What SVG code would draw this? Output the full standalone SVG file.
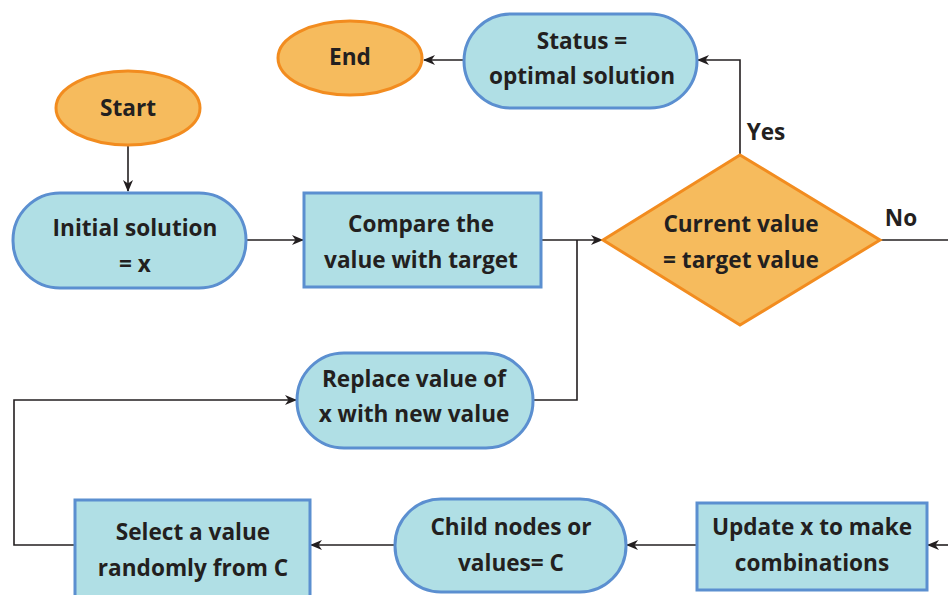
<svg xmlns="http://www.w3.org/2000/svg" width="948" height="595" viewBox="0 0 948 595">
<defs>
<marker id="ah" viewBox="0 0 12 10" refX="11" refY="5" markerWidth="12" markerHeight="10" markerUnits="userSpaceOnUse" orient="auto">
<path d="M0,0 L12,5 L0,10 L3.5,5 z" fill="#231f20"/>
</marker>
<style>
.blue{fill:#b0dfe5;stroke:#5b8fd0;stroke-width:3}
.orange{fill:#f6bb5d;stroke:#f28c1f;stroke-width:3}
.t{font-family:"Open Sans",Lato,"Liberation Sans",sans-serif;font-weight:700;font-size:22.6px;fill:#231f20;text-anchor:middle}
.c{fill:none;stroke:#231f20;stroke-width:1.6}
</style>
</defs>
<rect width="948" height="595" fill="#ffffff"/>
<g id="connectors">
<path class="c" d="M464,60 L424,60" marker-end="url(#ah)"/>
<path class="c" d="M740,155 L740,60 L698,60" marker-end="url(#ah)"/>
<path class="c" d="M128,145 L128,191" marker-end="url(#ah)"/>
<path class="c" d="M246,240 L303,240" marker-end="url(#ah)"/>
<path class="c" d="M541,240 L602,240" marker-end="url(#ah)"/>
<path class="c" d="M577,240 L577,400 L533,400"/>
<path class="c" d="M880,240 L948,240"/>
<path class="c" d="M75,545 L14,545 L14,400 L296,400" marker-end="url(#ah)"/>
<path class="c" d="M395,545 L311,545" marker-end="url(#ah)"/>
<path class="c" d="M697,545 L627,545" marker-end="url(#ah)"/>
<path class="c" d="M948,545 L928,545" marker-end="url(#ah)"/>
<text class="t" x="766" y="140">Yes</text>
<text class="t" x="901" y="226">No</text>
</g>
<g id="end">
<ellipse class="orange" cx="350" cy="58" rx="72" ry="37"/>
<text class="t" x="350" y="65">End</text>
</g>
<g id="status">
<rect class="blue" x="464" y="14" width="233" height="94" rx="47"/>
<text class="t" x="582" y="49">Status =</text>
<text class="t" x="582" y="84">optimal solution</text>
</g>
<g id="start">
<ellipse class="orange" cx="128" cy="108" rx="72" ry="37"/>
<text class="t" x="128" y="116">Start</text>
</g>
<g id="initial">
<rect class="blue" x="13" y="193" width="233" height="95" rx="47"/>
<text class="t" x="135" y="236">Initial solution</text>
<text class="t" x="135" y="272">= x</text>
</g>
<g id="compare">
<rect class="blue" x="304" y="193" width="237" height="94"/>
<text class="t" x="421" y="232">Compare the</text>
<text class="t" x="421" y="268">value with target</text>
</g>
<g id="decision">
<polygon class="orange" points="603,240 740,155 880,240 740,325"/>
<text class="t" x="741" y="232">Current value</text>
<text class="t" x="741" y="268">= target value</text>
</g>
<g id="replace">
<rect class="blue" x="297" y="353" width="236" height="95" rx="47"/>
<text class="t" x="414" y="387">Replace value of</text>
<text class="t" x="414" y="422">x with new value</text>
</g>
<g id="select">
<rect class="blue" x="75" y="500" width="235" height="100"/>
<text class="t" x="193" y="540">Select a value</text>
<text class="t" x="193" y="576">randomly from C</text>
</g>
<g id="child">
<rect class="blue" x="395" y="499" width="231" height="93" rx="46"/>
<text class="t" x="511" y="535">Child nodes or</text>
<text class="t" x="511" y="571">values= C</text>
</g>
<g id="update">
<rect class="blue" x="697" y="503" width="230" height="87"/>
<text class="t" x="812" y="535">Update x to make</text>
<text class="t" x="812" y="571">combinations</text>
</g>
</svg>
